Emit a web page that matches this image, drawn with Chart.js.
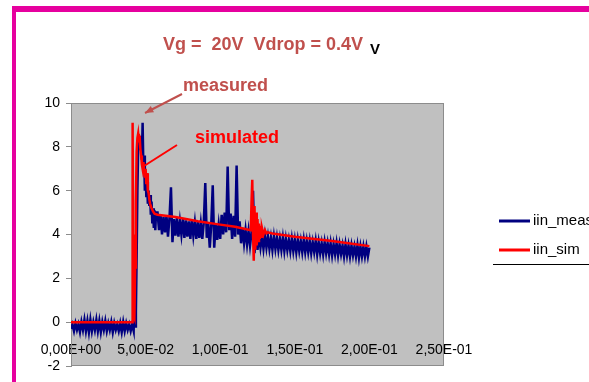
<!DOCTYPE html>
<html>
<head>
<meta charset="utf-8">
<script src="https://cdn.jsdelivr.net/npm/chart.js@4/dist/chart.umd.min.js"></script>
<style>
  html, body { margin: 0; padding: 0; background: #fff; overflow: hidden; }
  #frame { position: absolute; left: 12px; top: 6px; width: 620px; height: 420px; border-top: 6px solid #E6009E; border-left: 4px solid #E6009E; }
  #wrap { position: absolute; left: 0; top: 0; width: 589px; height: 382px; }
</style>
</head>
<body>
<div id="frame"></div>
<div id="wrap"><canvas id="chart"></canvas></div>
<script>
// measured input current (time in s, current in A)
const measT = [
  0, 0.001, 0.002, 0.003, 0.004, 0.005, 0.006, 0.007, 0.008, 0.009,
  0.010, 0.011, 0.012, 0.013, 0.014, 0.015, 0.016, 0.017, 0.018, 0.019,
  0.020, 0.021, 0.022, 0.023, 0.024, 0.025, 0.026, 0.027, 0.028, 0.029,
  0.030, 0.031, 0.032, 0.033, 0.034, 0.035, 0.036, 0.037, 0.038, 0.039, 0.040,
  0.041, 0.042, 0.0425, 0.043, 0.0435, 0.044, 0.0445, 0.045, 0.0455, 0.046,
  0.0465, 0.047, 0.0475, 0.048, 0.0485, 0.049, 0.0495, 0.050, 0.0505, 0.051,
  0.0515, 0.052, 0.0525, 0.053, 0.0535, 0.054, 0.0545, 0.055, 0.0555, 0.056,
  0.0565, 0.057,
  0.058, 0.059, 0.060, 0.061, 0.062, 0.063, 0.064, 0.065, 0.066, 0.067,
  0.068, 0.069, 0.070, 0.071, 0.072, 0.073, 0.074, 0.075, 0.076, 0.077,
  0.078, 0.079, 0.080, 0.081, 0.082, 0.083, 0.084, 0.085, 0.086, 0.087,
  0.088, 0.089, 0.090, 0.091, 0.092, 0.093, 0.094, 0.095, 0.096, 0.097,
  0.098, 0.099, 0.100, 0.101, 0.102, 0.103, 0.104, 0.105, 0.106, 0.107,
  0.108, 0.109, 0.110, 0.111, 0.112, 0.113, 0.114, 0.115, 0.116, 0.117,
  0.118, 0.119, 0.120, 0.121, 0.122, 0.123, 0.124, 0.125, 0.126, 0.127,
  0.128, 0.129, 0.130, 0.131, 0.132, 0.133, 0.134, 0.135, 0.136, 0.137,
  0.138, 0.139, 0.140, 0.141, 0.142, 0.143, 0.144, 0.145, 0.146, 0.147,
  0.148, 0.149, 0.150, 0.151, 0.152, 0.153, 0.154, 0.155, 0.156, 0.157,
  0.158, 0.159, 0.160, 0.161, 0.162, 0.163, 0.164, 0.165, 0.166, 0.167,
  0.168, 0.169, 0.170, 0.171, 0.172, 0.173, 0.174, 0.175, 0.176, 0.177,
  0.178, 0.179, 0.180, 0.181, 0.182, 0.183, 0.184, 0.185, 0.186, 0.187,
  0.188, 0.189, 0.190, 0.191, 0.192, 0.193, 0.194, 0.195, 0.196, 0.197,
  0.198, 0.199, 0.200
];
const measI = [
  -0.3, -0.1, -0.4, -0.05, -0.35, -0.1, -0.45, 0.0, -0.35, 0.1,
  -0.4, 0.05, -0.45, 0.1, -0.4, 0.0, -0.35, 0.1, -0.4, 0.05,
  -0.45, 0.0, -0.35, 0.05, -0.4, -0.05, -0.35, 0.0, -0.45, -0.05,
  -0.35, -0.1, -0.4, -0.05, -0.45, 0.0, -0.4, -0.05, -0.35, -0.1, -0.4,
  -0.1, -0.4, 1.1, -0.2, 0.5, 3.0, 6.0, 7.9, 8.3, 8.0,
  8.5, 8.1, 7.4, 9.1, 7.1, 7.6, 6.0, 6.8, 5.7, 6.4,
  5.4, 6.0, 5.3, 5.8, 4.9, 5.5, 4.5, 5.2, 4.3, 5.1,
  4.2, 5.0,
  5.0, 4.2, 4.9, 4.0, 4.8, 4.1, 4.85, 3.9, 4.75, 6.15,
  3.65, 4.7, 3.95, 4.75, 3.9, 4.6, 4.0, 4.7, 3.85, 4.65,
  3.9, 4.6, 3.8, 4.65, 3.95, 4.55, 3.8, 4.6, 3.85, 4.5,
  3.8, 4.55, 6.35, 3.85, 4.5, 3.4, 4.45, 6.25, 3.4, 4.5,
  3.75, 4.45, 3.8, 4.9, 4.0, 5.0, 4.1, 7.1, 4.2, 4.95,
  3.8, 4.85, 3.9, 7.15, 4.0, 4.6, 3.6, 4.3, 3.6, 4.2,
  3.55, 4.15, 3.5, 4.1, 6.0, 3.15, 4.1, 3.3, 3.95, 3.4,
  3.9, 3.35, 3.95, 3.4, 3.9, 3.35, 3.85, 3.3, 3.9, 3.35,
  3.85, 3.3, 3.8, 3.3, 3.85, 3.25, 3.8, 3.3, 3.75, 3.25,
  3.8, 3.25, 3.75, 3.2, 3.75, 3.25, 3.7, 3.2, 3.75, 3.2,
  3.7, 3.2, 3.7, 3.15, 3.65, 3.2, 3.7, 3.1, 3.65, 3.15,
  3.6, 3.1, 3.65, 3.15, 3.6, 3.1, 3.6, 3.05, 3.55, 3.1,
  3.6, 3.05, 3.55, 3.1, 3.5, 3.0, 3.55, 3.05, 3.5, 3.0,
  3.5, 3.05, 3.45, 3.0, 3.5, 2.95, 3.45, 3.0, 3.45, 3.0,
  3.45, 3.0, 3.4
];
// simulated input current
const simT = [
  0, 0.041, 0.0413, 0.0416, 0.042, 0.0425, 0.043, 0.0435, 0.044, 0.0445,
  0.045, 0.0455, 0.046, 0.0465, 0.047, 0.0475, 0.048, 0.0485, 0.049, 0.0495,
  0.050, 0.0505, 0.051, 0.0515, 0.052, 0.0525, 0.053, 0.054, 0.055, 0.056,
  0.058, 0.070, 0.085, 0.100, 0.110, 0.1205, 0.1210, 0.1215, 0.1220, 0.1225,
  0.1230, 0.1235, 0.1240, 0.1245, 0.1250, 0.1255, 0.1260, 0.1265, 0.1270, 0.1275,
  0.128, 0.129, 0.130, 0.131, 0.132, 0.135, 0.150, 0.175, 0.200
];
const simI = [
  0, 0, 9.1, 4.0, 0.3, 0.2, 2.5, 5.5, 7.8, 8.4,
  8.6, 8.2, 8.5, 7.9, 7.6, 7.2, 7.0, 7.3, 6.9, 6.6,
  7.0, 6.3, 6.8, 6.0, 5.9, 5.6, 5.4, 5.2, 5.05, 4.95,
  4.9, 4.8, 4.6, 4.45, 4.35, 4.2, 5.5, 6.5, 4.0, 2.8,
  5.3, 3.3, 5.0, 3.5, 4.7, 3.7, 4.5, 3.8, 4.4, 3.9,
  4.3, 4.0, 4.2, 4.05, 4.1, 4.05, 3.9, 3.7, 3.47
];
const seriesNames = ['iin_meas', 'iin_sim'];
const seriesColors = ['#000080', '#FF0000'];
const titleText = 'Vg =  20V  Vdrop = 0.4V';

const FONT = "'Liberation Sans', Arial, sans-serif";

function pairs(ts, vs) {
  return ts.map(function(t, i) { return { x: t, y: vs[i] }; });
}

function sciLabel(v) {
  var s = Number(v).toExponential(2).split('e');
  var exp = parseInt(s[1], 10);
  return s[0].replace('.', ',') + 'E' + (exp < 0 ? '-' : '+') + String(Math.abs(exp)).padStart(2, '0');
}

function arrow(ctx, x1, y1, x2, y2, color, head) {
  ctx.save();
  ctx.strokeStyle = color; ctx.fillStyle = color; ctx.lineWidth = 2;
  ctx.beginPath(); ctx.moveTo(x1, y1); ctx.lineTo(x2, y2); ctx.stroke();
  if (head) {
    var a = Math.atan2(y2 - y1, x2 - x1);
    ctx.beginPath();
    ctx.moveTo(x2, y2);
    ctx.lineTo(x2 - 9 * Math.cos(a - 0.4), y2 - 9 * Math.sin(a - 0.4));
    ctx.lineTo(x2 - 9 * Math.cos(a + 0.4), y2 - 9 * Math.sin(a + 0.4));
    ctx.closePath(); ctx.fill();
  }
  ctx.restore();
}

const plotBack = {
  id: 'plotBack',
  beforeDraw: function(chart) {
    var a = chart.chartArea, ctx = chart.ctx;
    ctx.save();
    ctx.fillStyle = '#C0C0C0';
    ctx.fillRect(a.left, a.top, a.right - a.left, a.bottom - a.top);
    ctx.strokeStyle = '#8C8C8C'; ctx.lineWidth = 1;
    ctx.strokeRect(a.left + 0.5, a.top + 0.5, a.right - a.left - 1, a.bottom - a.top - 1);
    ctx.restore();
  },
  afterDraw: function(chart) {
    var ctx = chart.ctx;
    ctx.save();
    // title
    ctx.textBaseline = 'alphabetic';
    ctx.font = 'bold 18px ' + FONT;
    ctx.fillStyle = '#C0504D';
    ctx.fillText(titleText, 163, 50);
    ctx.font = 'bold 15px ' + FONT;
    ctx.fillStyle = '#000';
    ctx.fillText('V', 370, 54);
    // annotations
    ctx.font = 'bold 18px ' + FONT;
    ctx.fillStyle = '#C0504D';
    ctx.fillText('measured', 183, 91);
    ctx.fillStyle = '#FF0000';
    ctx.fillText('simulated', 195, 143);
    arrow(ctx, 182, 94, 145, 113, '#C0504D', true);
    arrow(ctx, 177, 145, 144, 166, '#FF0000', false);
    // legend
    ctx.font = '15px ' + FONT;
    ctx.textBaseline = 'middle';
    chart.data.datasets.forEach(function(ds, i) {
      var y = 221 + i * 29;
      ctx.strokeStyle = ds.borderColor; ctx.lineWidth = 3;
      ctx.beginPath(); ctx.moveTo(499, y); ctx.lineTo(530, y); ctx.stroke();
      ctx.fillStyle = '#000';
      ctx.fillText(ds.label, 533, y);
    });
    ctx.strokeStyle = '#000'; ctx.lineWidth = 1;
    ctx.beginPath(); ctx.moveTo(493, 264.5); ctx.lineTo(589, 264.5); ctx.stroke();
    ctx.restore();
  }
};

new Chart(document.getElementById('chart'), {
  type: 'line',
  data: {
    datasets: [
      { label: seriesNames[0], data: pairs(measT, measI), borderColor: seriesColors[0], borderWidth: 2.5, pointRadius: 0, tension: 0, order: 2 },
      { label: seriesNames[1], data: pairs(simT, simI), borderColor: seriesColors[1], borderWidth: 2.5, pointRadius: 0, tension: 0, order: 1 }
    ]
  },
  options: {
    responsive: true, maintainAspectRatio: false, animation: false,
    layout: { padding: { left: 0, top: 103, right: 145, bottom: 16 } },
    plugins: { legend: { display: false }, tooltip: { enabled: false } },
    scales: {
      x: {
        type: 'linear', position: { y: 0 }, min: 0, max: 0.25,
        afterFit: function(s) { s.height = 0; },
        border: { display: false },
        grid: { display: false, drawTicks: false },
        ticks: { stepSize: 0.05, padding: 20, autoSkip: false, maxRotation: 0, color: '#000', font: { family: FONT, size: 14 }, callback: sciLabel }
      },
      y: {
        min: -2, max: 10,
        afterFit: function(s) { s.width = 71; },
        border: { color: '#8C8C8C' },
        grid: { drawOnChartArea: false, tickLength: 5, color: '#8C8C8C' },
        ticks: { stepSize: 2, padding: 6, color: '#000', font: { family: FONT, size: 14 } }
      }
    }
  },
  plugins: [plotBack]
});
</script>
</body>
</html>
